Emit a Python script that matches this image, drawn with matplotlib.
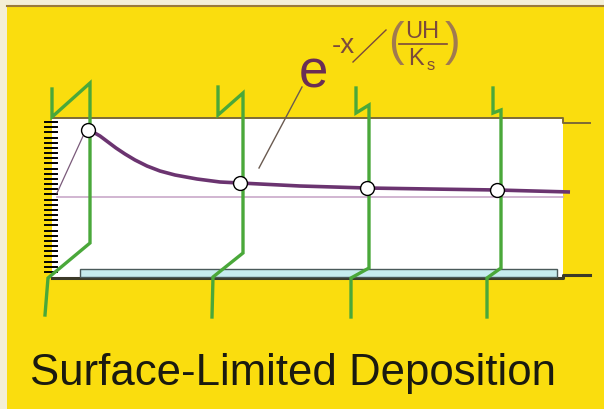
import numpy as np
import matplotlib
matplotlib.use('Agg')
import matplotlib.pyplot as plt
from matplotlib.patches import Rectangle

plt.rcParams['font.family'] = ['Liberation Sans', 'DejaVu Sans']

# concentration profile along the channel (pixel space of the sketch)
curve_x = [88, 93, 100, 108, 116, 125, 135, 147, 160, 175, 197, 220, 240, 300, 367, 430, 497, 570]
curve_y = [130, 132, 136, 142, 148, 154, 160, 166, 171, 175, 179, 182, 183, 186, 188, 189, 190, 192]

# measuring points (open circles)
pts_x = [88, 240, 367, 497]
pts_y = [130, 183, 188, 190]

# green velocity-profile sketches, one per station
probes = [
    ([52, 52, 90, 90, 48, 45], [89, 117, 83, 243, 278, 315]),
    ([218, 218, 243, 243, 213, 212], [87, 115, 93, 253, 277, 317]),
    ([356, 356, 369, 369, 351, 351], [88, 113, 105, 268, 278, 317]),
    ([493, 493, 501, 501, 487, 487], [88, 113, 110, 268, 278, 317]),
]

YELLOW = '#FADD0E'
GREEN = '#4aa83a'
PURPLE = '#6b3470'
BROWN = '#7b4a3c'

fig = plt.figure(figsize=(6.04, 4.09), dpi=100)
fig.patch.set_facecolor('#f4efd6')
ax = fig.add_axes([0, 0, 1, 1])
ax.set_xlim(0, 604)
ax.set_ylim(409, 0)
ax.axis('off')

# yellow slide background with thin top border
ax.add_patch(Rectangle((7, 6), 604, 409, facecolor=YELLOW, edgecolor='none', zorder=0))
ax.plot([7, 604], [6, 6], color='#9a7a3a', lw=1.5, zorder=1)

# channel
ax.add_patch(Rectangle((52, 118), 511, 160, facecolor='white', edgecolor='none', zorder=1))
ax.plot([52, 563, 563, 590], [118, 118, 123, 123], color='#7d6a36', lw=1.4, zorder=2)
ax.plot([52, 563, 563, 590], [278, 278, 275, 275], color='#3c3a28', lw=2.2, zorder=2)

# substrate
ax.add_patch(Rectangle((80, 269), 477, 8, facecolor='#c6ecee', edgecolor='#4a5a5a',
                       lw=1.0, zorder=2))

# inlet hatch marks
for yy in np.linspace(122, 272, 30):
    ax.plot([45, 57], [yy, yy], color='black', lw=1.4, zorder=3)

# mid-line and inlet ramp
ax.plot([57, 563], [197, 197], color='#c9a9c9', lw=1.2, zorder=2)
ax.plot([57, 84], [193, 134], color='#7a5a7a', lw=0.9, zorder=3)

for xs, ys in probes:
    ax.plot(xs, ys, color=GREEN, lw=2.4, solid_joinstyle='miter', zorder=4)

ax.plot(curve_x, curve_y, color=PURPLE, lw=2.6, solid_capstyle='butt',
        solid_joinstyle='round', zorder=5)
ax.plot(pts_x, pts_y, 'o', ms=10, mfc='white', mec='black', mew=1.0, zorder=6)

# formula label e^{-x/(UH/Ks)}
ax.plot([302, 259], [87, 168], color='#6a5a50', lw=1.0, zorder=5)
ax.text(313, 74, 'e', fontsize=38, color='#6a2d55', ha='center', va='center', zorder=6)
ax.text(343, 46, '-x', fontsize=20, color=BROWN, ha='center', va='center', zorder=6)
ax.plot([353, 386], [62, 30], color=BROWN, lw=1.0, zorder=6)
ax.text(396, 43, '(', fontsize=34, color='#a07a50', ha='center', va='center', zorder=6)
ax.text(453, 43, ')', fontsize=34, color='#a07a50', ha='center', va='center', zorder=6)
ax.text(422, 32, 'UH', fontsize=17, color=BROWN, ha='center', va='center', zorder=6)
ax.plot([399, 447], [44, 44], color=BROWN, lw=1.2, zorder=6)
ax.text(416, 59, 'K', fontsize=17, color=BROWN, ha='center', va='center', zorder=6)
ax.text(431, 66, 's', fontsize=12, color=BROWN, ha='center', va='center', zorder=6)

ax.text(293, 373, 'Surface-Limited Deposition', fontsize=31.5, color='#1a1a10',
        ha='center', va='center', zorder=6)

fig.savefig('out.png', dpi=100)
